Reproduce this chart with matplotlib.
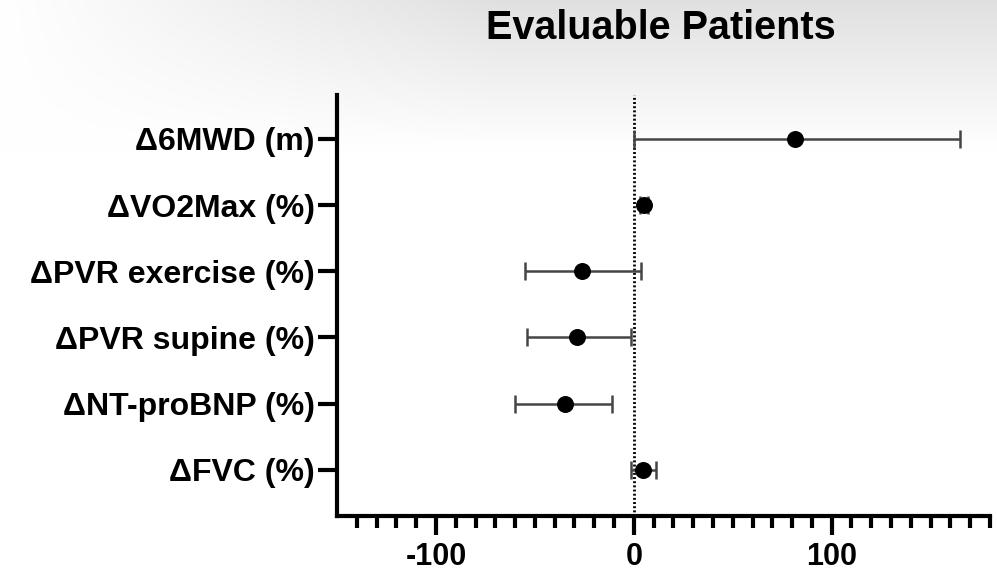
import matplotlib.pyplot as plt
import numpy as np

plt.rcParams["font.family"] = ["Liberation Sans", "DejaVu Sans"]
plt.rcParams["axes.unicode_minus"] = False

# Forest plot values (change from baseline)
labels = ["\u03946MWD (m)", "\u0394VO2Max (%)", "\u0394PVR exercise (%)",
          "\u0394PVR supine (%)", "\u0394NT-proBNP (%)", "\u0394FVC (%)"]
estimate = [81.5, 5.0, -26.0, -28.5, -35.0, 4.5]
ci_low = [0.0, 3.0, -55.0, -54.0, -60.0, -1.5]
ci_high = [165.0, 7.0, 3.5, -1.5, -11.0, 11.0]

fig = plt.figure(figsize=(9.97, 5.74), dpi=100)

# faint grey screenshot shading along the top edge
bg = fig.add_axes([0, 0, 1, 1], zorder=-10)
gx = np.clip(np.linspace(0, 1, 300) / 0.5, 0, 1)
gy = np.clip(1 - np.linspace(0, 1, 200) / 0.26, 0, 1)
shade = 1 - 0.12 * np.outer(gy, gx)
bg.imshow(np.dstack([shade] * 3), aspect="auto", extent=[0, 1, 0, 1])
bg.axis("off")

ax = fig.add_axes([0.338, 0.101, 0.655, 0.733])
ax.set_facecolor("none")

y = np.arange(len(labels))[::-1]
est = np.array(estimate)
lo = est - np.array(ci_low)
hi = np.array(ci_high) - est

ax.errorbar(est, y, xerr=[lo, hi], fmt="none", ecolor="#454545",
            elinewidth=1.8, capsize=6.5, capthick=1.8, zorder=2)
ax.plot(est, y, "o", color="black", markersize=11.2, zorder=3)
ax.axvline(0, color="black", linestyle=(0, (0.7, 0.8)), linewidth=2, zorder=1)

ax.set_xlim(-150, 180)
ax.set_ylim(-0.7, 5.66)
ax.set_xticks([-100, 0, 100])
ax.set_xticks(np.arange(-140, 181, 10), minor=True)
ax.set_yticks(y)
ax.set_yticklabels(labels)

for side in ["top", "right"]:
    ax.spines[side].set_visible(False)
for side in ["left", "bottom"]:
    ax.spines[side].set_linewidth(3)

ax.tick_params(axis="x", which="major", length=14, width=3, pad=5,
               labelsize=22)
ax.tick_params(axis="x", which="minor", length=8.5, width=3)
ax.tick_params(axis="y", length=14, width=3, pad=2, labelsize=23)
for t in ax.get_xticklabels() + ax.get_yticklabels():
    t.set_fontweight("bold")

fig.text(0.663, 0.951, "Evaluable Patients", ha="center", va="center",
         fontsize=28.5, fontweight="bold")

fig.savefig("out.png", dpi=100)
